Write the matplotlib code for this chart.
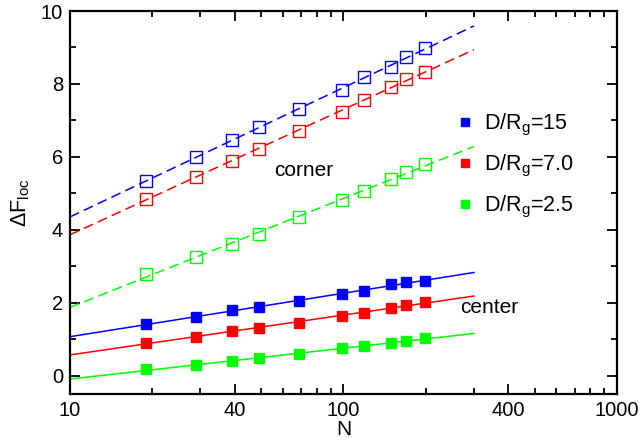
import numpy as np
import matplotlib
matplotlib.use("Agg")
import matplotlib.pyplot as plt
from matplotlib.lines import Line2D
from matplotlib.ticker import FixedLocator, LogLocator, NullFormatter, FixedFormatter

plt.rcParams['font.family'] = ['Liberation Sans', 'DejaVu Sans']
plt.rcParams['mathtext.fontset'] = 'custom'
plt.rcParams['mathtext.rm'] = 'Liberation Sans'
plt.rcParams['mathtext.it'] = 'Liberation Sans'

# chain lengths
N = [19, 29, 39, 49, 69, 99, 119, 149, 169, 199]

# free energy at the corner (open squares, dashed fits)
corner_15 = [5.35, 5.99, 6.46, 6.82, 7.31, 7.83, 8.20, 8.47, 8.73, 8.99]
corner_70 = [4.85, 5.46, 5.90, 6.22, 6.72, 7.23, 7.56, 7.91, 8.13, 8.33]
corner_25 = [2.79, 3.26, 3.60, 3.89, 4.34, 4.81, 5.06, 5.39, 5.58, 5.81]

# free energy at the center (filled squares, solid fits)
center_15 = [1.42, 1.62, 1.79, 1.88, 2.05, 2.23, 2.33, 2.51, 2.56, 2.61]
center_70 = [0.91, 1.07, 1.23, 1.30, 1.46, 1.63, 1.73, 1.87, 1.94, 2.01]
center_25 = [0.18, 0.29, 0.40, 0.48, 0.60, 0.75, 0.81, 0.90, 0.96, 1.03]

colors = ['#0000ff', '#ff0000', '#00ff00']
labels = [r'D/R$_\mathrm{g}$=15', r'D/R$_\mathrm{g}$=7.0', r'D/R$_\mathrm{g}$=2.5']
fit_range = [10, 300]

fig = plt.figure(figsize=(6.44, 4.44), dpi=100)
ax = fig.add_axes([0.1087, 0.1126, 0.8493, 0.8626])

def draw(ax, y, color, ls, filled):
    logn = np.log10(N)
    k, b = np.polyfit(logn, y, 1)
    xf = np.array(fit_range, dtype=float)
    ax.plot(xf, k * np.log10(xf) + b, color=color, lw=1.1, ls=ls,
            dashes=(6.5, 3.5) if ls == '--' else (None, None))
    ax.plot(N, y, ls='none', marker='s', ms=7.8 if filled else 8.0,
            mfc=color if filled else 'none', mec=color, mew=1.0)

for y, c in zip([corner_15, corner_70, corner_25], colors):
    draw(ax, y, c, '--', False)
for y, c in zip([center_15, center_70, center_25], colors):
    draw(ax, y, c, '-', True)

ax.set_xscale('log')
ax.set_xlim(10, 1000)
ax.set_ylim(-0.5, 10)

ax.xaxis.set_major_locator(FixedLocator([10, 40, 100, 400, 1000]))
ax.xaxis.set_major_formatter(FixedFormatter(['10', '40', '100', '400', '1000']))
ax.xaxis.set_minor_locator(LogLocator(base=10, subs=(2, 3, 5, 6, 7, 8, 9)))
ax.xaxis.set_minor_formatter(NullFormatter())
ax.yaxis.set_major_locator(FixedLocator([0, 2, 4, 6, 8, 10]))
ax.yaxis.set_minor_locator(FixedLocator([1, 3, 5, 7, 9]))

ax.tick_params(which='both', direction='in', top=True, right=True,
               width=1.3, labelsize=14.5)
ax.tick_params(which='major', length=7.5, pad=5)
ax.tick_params(which='minor', length=4.5)
for s in ax.spines.values():
    s.set_linewidth(1.6)

ax.set_xlabel('N', fontsize=15, labelpad=0)
ax.set_ylabel(r'$\Delta$F$_\mathrm{loc}$', fontsize=15.5, labelpad=6)

ax.text(56, 5.64, 'corner', fontsize=15, va='center')
ax.text(268, 1.86, 'center', fontsize=15, va='center')

handles = [Line2D([], [], ls='none', marker='s', ms=6, mfc=c, mec=c) for c in colors]
ax.legend(handles, labels, loc='upper left', bbox_to_anchor=(0.69, 0.765),
          frameon=False, fontsize=15.5, handlelength=0.6, handletextpad=0.6,
          labelspacing=0.7, borderpad=0)

fig.savefig('out.png', dpi=100)
